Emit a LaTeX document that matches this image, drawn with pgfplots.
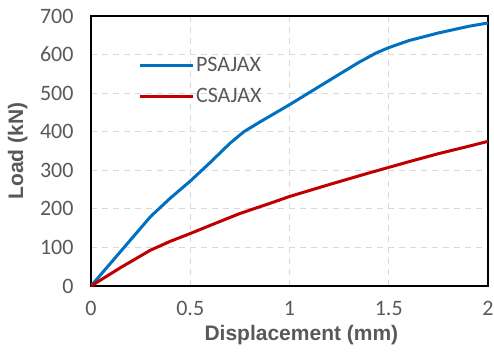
\documentclass[border=0pt]{standalone}
\usepackage{pgfplots}
\pgfplotsset{compat=1.18}
\usepackage{fontspec}
\setmainfont{Carlito}
\newfontfamily\labfont{Liberation Sans}
\definecolor{txt}{HTML}{595959}
\definecolor{gridc}{HTML}{D9D9D9}
\definecolor{pblue}{HTML}{0070C0}
\definecolor{cred}{HTML}{C00000}
\begin{document}
\begin{tikzpicture}
\useasboundingbox (-91pt,-67pt) rectangle (403pt,286pt);
\begin{axis}[
  scale only axis, width=397pt, height=270pt,
  xmin=0, xmax=2, ymin=0, ymax=700,
  xtick={0,0.5,1,1.5,2}, ytick={0,100,...,700},
  xticklabels={0,0.5,1,1.5,2},
  grid=major,
  major grid style={gridc, dashed, line width=1.2pt, dash pattern=on 6pt off 5pt},
  axis line style={black, line width=1.2pt},
  tick style={draw=none},
  tick label style={font=\fontsize{22}{24}\selectfont, text=txt},
  /pgf/number format/assume math mode=true,
  xticklabel style={yshift=-12pt},
  yticklabel style={xshift=-14pt},
  xlabel={\labfont\bfseries Displacement (mm)},
  ylabel={\labfont\bfseries Load (kN)},
  label style={font=\fontsize{21}{23}\selectfont, text=txt},
  xlabel style={at={(axis description cs:0.53,0)}, anchor=north, yshift=-36pt},
  ylabel style={at={(axis description cs:0,0.5)}, anchor=south, yshift=60pt},
  legend style={draw=none, fill=none, at={(rel axis cs:0.118,0.855)}, anchor=north west,
    font=\fontsize{22}{24}\selectfont, text=txt, row sep=11pt, inner sep=0pt},
  legend cell align=left,
  legend image code/.code={\draw[#1] (0pt,0pt) -- (53pt,0pt);},
]
\addplot[pblue, line width=3pt, line join=round] coordinates {
(0,0) (0.15,90) (0.3,180) (0.4,228) (0.5,272) (0.6,320) (0.7,370) (0.77,400) (0.85,425) (1.0,470) (1.2,533) (1.35,580) (1.436,604) (1.5,618) (1.6,636) (1.75,656) (1.9,673) (2,682)};
\addlegendentry{PSAJAX}
\addplot[cred, line width=3pt, line join=round] coordinates {
(0,0) (0.15,48) (0.3,93) (0.4,116) (0.5,136) (0.6,157) (0.75,188) (0.9,214) (1.0,232) (1.2,263) (1.4,293) (1.6,322) (1.75,343) (1.9,362) (2,375)};
\addlegendentry{CSAJAX}
\end{axis}
\end{tikzpicture}
\end{document}
